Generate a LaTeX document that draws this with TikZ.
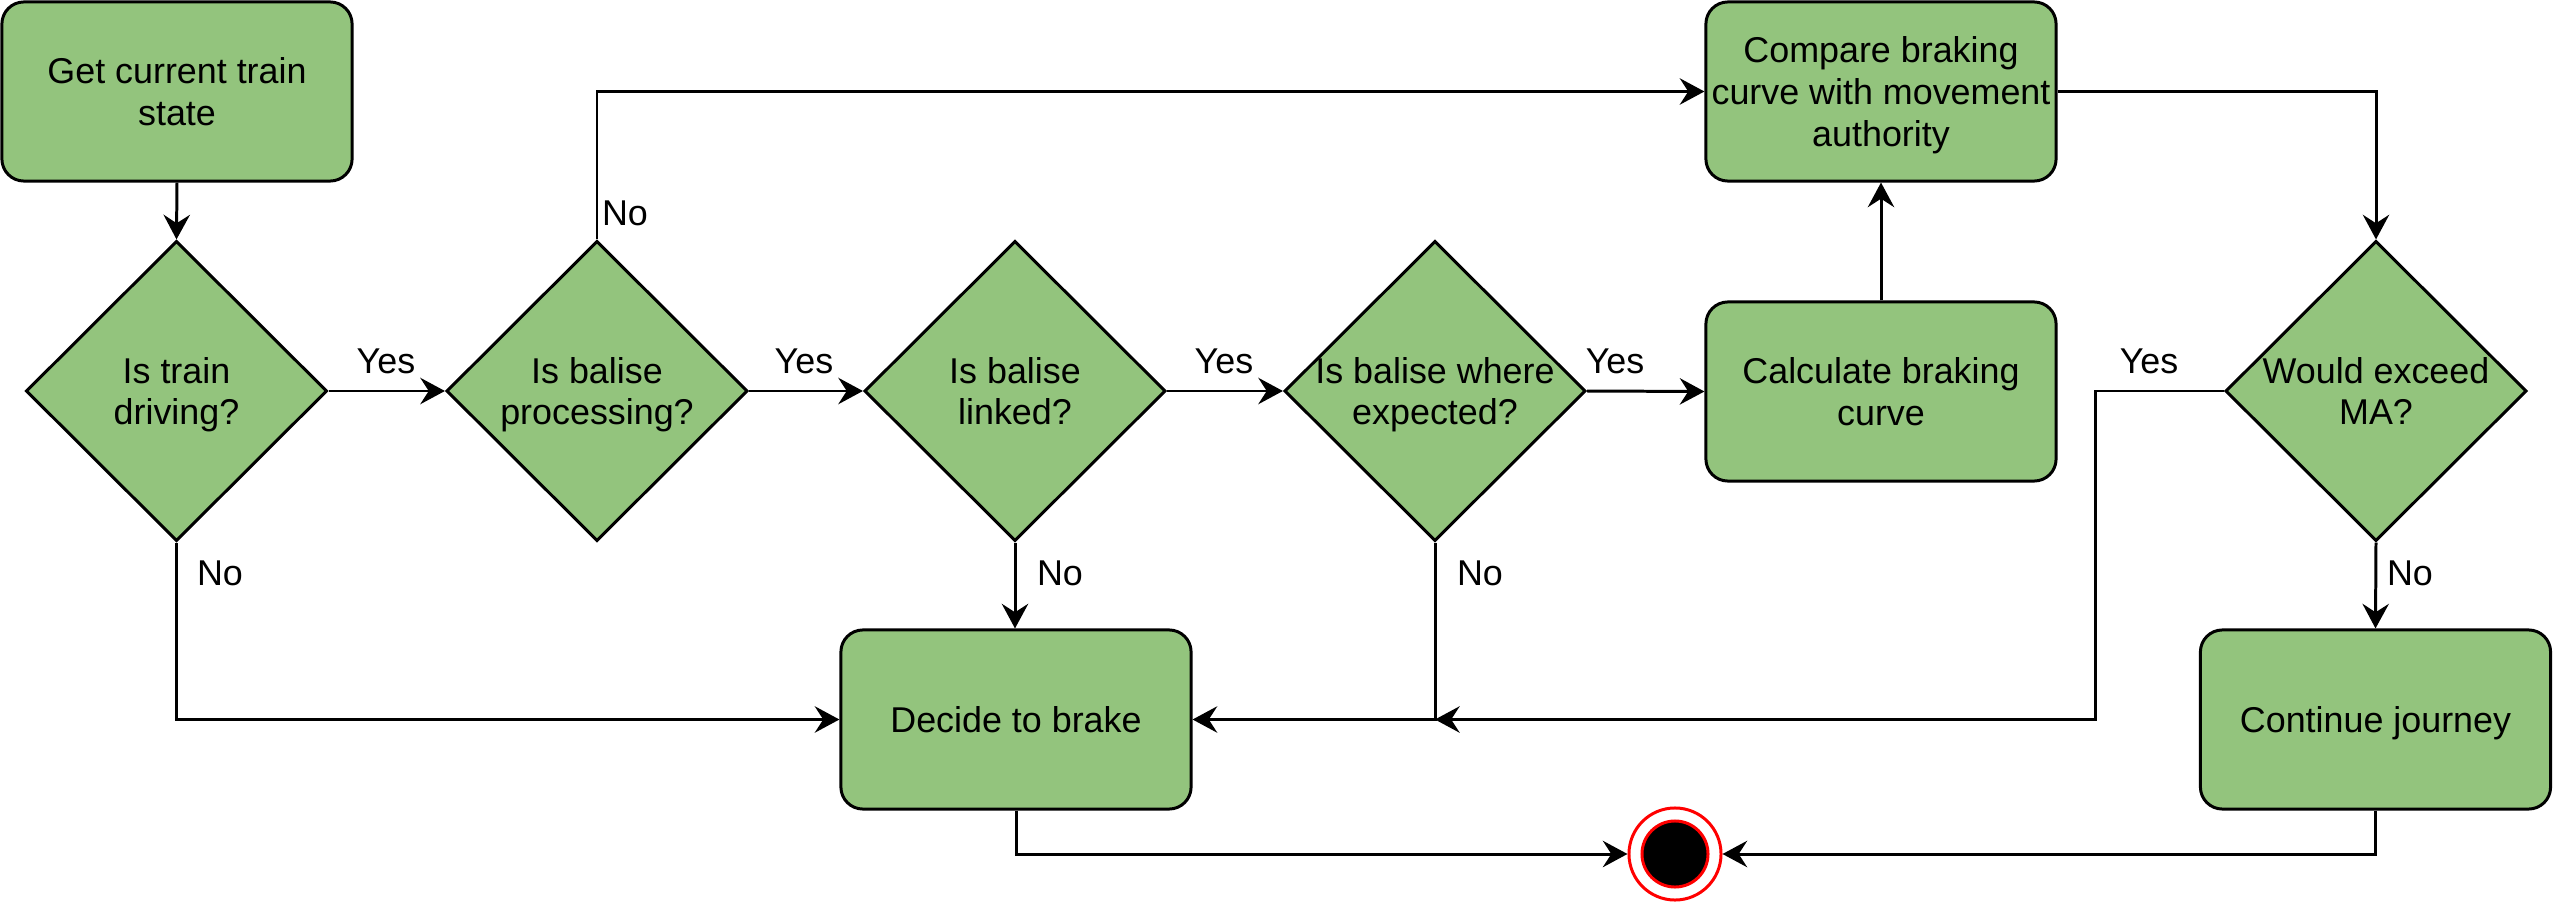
\documentclass[tikz,border=0pt]{standalone}
\usepackage{fontspec}
\setmainfont{Liberation Sans}
\usetikzlibrary{shapes.geometric,arrows.meta,calc}
\definecolor{boxgreen}{HTML}{93C47D}
\newcommand\dtxt[1]{\makebox[0pt]{\raisebox{-3.8pt}[0pt][0pt]{\begin{tabular}{@{}c@{}}#1\end{tabular}}}}
\begin{document}
\begin{tikzpicture}[x=0.01cm,y=-0.01cm,
  every node/.style={font=\fontsize{10.2}{11.9}\selectfont},
  box/.style={draw=black, fill=boxgreen, rounded corners=0.22cm, line width=0.85pt, minimum width=3.5cm, minimum height=1.79cm, inner sep=0pt},
  dia/.style={draw=black, fill=boxgreen, diamond, line width=0.85pt, minimum width=3.01cm, minimum height=3.0cm, inner sep=0pt},
  arr/.style={line width=0.85pt, -{Stealth[length=7pt,width=7.5pt,inset=2.4pt]}},
  lbl/.style={inner sep=0pt}]
\useasboundingbox (0,0) rectangle (2553,903);

\node[box] (get) at (177,91.5) {\dtxt{Get current train\\state}};
\node[dia] (d1) at (176.5,391) {\dtxt{Is train\\driving?}};
\node[dia] (d2) at (597,391) {\dtxt{Is balise\\processing?}};
\node[dia] (d3) at (1015,391) {\dtxt{Is balise\\linked?}};
\node[dia] (d4) at (1435,391) {\dtxt{Is balise where\\expected?}};
\node[box] (calc) at (1881,391.5) {\dtxt{Calculate braking\\curve}};
\node[box] (cmp) at (1881,91.5) {\dtxt{Compare braking\\curve with movement\\authority}};
\node[dia] (d5) at (2376,391) {\dtxt{Would exceed\\MA?}};
\node[box] (dec) at (1016,719.5) {\dtxt{Decide to brake}};
\node[box] (cont) at (2375.5,719.5) {\dtxt{Continue journey}};
\node[draw=red, fill=white, circle, line width=0.85pt, minimum size=0.92cm, inner sep=0pt] (stop) at (1675,854) {};
\node[draw=red, fill=black, circle, line width=0.85pt, minimum size=0.66cm, inner sep=0pt] (stopin) at (stop) {};

\draw[arr] (get.south) -- (d1.north);
\draw[arr] (d1.east) -- (d2.west);
\draw[arr] (d2.east) -- (d3.west);
\draw[arr] (d3.east) -- (d4.west);
\draw[arr] (d4.east) -- (calc.west);
\draw[arr] (calc.north) -- (cmp.south);
\draw[arr] (d2.north) |- (cmp.west);
\draw[arr] (cmp.east) -| (d5.north);
\draw[arr] (d1.south) |- (dec.west);
\draw[arr] (d3.south) -- (d3.south |- dec.north);
\coordinate (j) at (d4.south |- dec.east);
\draw[arr] (d4.south) -- (j) -- (dec.east);
\coordinate (k) at (2095,391);
\draw[arr] (d5.west) -- (k) |- (j);
\draw[arr] (d5.south) -- (cont.north);
\draw[arr] (dec.south) |- (stop.west);
\draw[arr] (cont.south) |- (stop.east);

\node[lbl] (y1) at (386,361) {Yes};
\node[lbl] (y2) at (804,361) {Yes};
\node[lbl] (y3) at (1224,361) {Yes};
\node[lbl] (y4) at (1615,361) {Yes};
\node[lbl] (y5) at (2149,361) {Yes};
\node[lbl] (n2) at (625,213) {No};
\node[lbl] (n1) at (220,573) {No};
\node[lbl] (n3) at (1060,573) {No};
\node[lbl] (n4) at (1480,573) {No};
\node[lbl] (n5) at (2410,573) {No};
\end{tikzpicture}
\end{document}
